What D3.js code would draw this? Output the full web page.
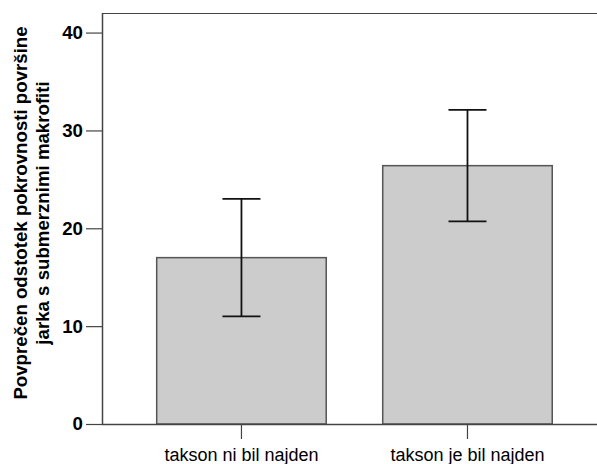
<!DOCTYPE html>
<html>
<head>
<meta charset="utf-8">
<script src="https://cdn.jsdelivr.net/npm/d3@7"></script>
<style>
  html, body { margin: 0; padding: 0; background: #fff; }
  svg { display: block; }
  text { font-family: "Liberation Sans", Arial, sans-serif; fill: #000; }
</style>
</head>
<body>
<svg id="chart" width="597" height="464"></svg>
<script>
// Categories and group means with 95% CI bounds
const categories = ["takson ni bil najden", "takson je bil najden"];
const means = [17.0, 26.4];
const ciLow = [11.0, 20.7];
const ciHigh = [23.0, 32.1];
const yTicks = [0, 10, 20, 30, 40];
const yTitleLines = ["Povprečen odstotek pokrovnosti površine", "jarka s submerznimi makrofiti"];

const svg = d3.select("#chart");
const plotLeft = 102, plotRight = 597, plotTop = 13, plotBottom = 424;
const fontFamily = "Liberation Sans, Arial, sans-serif";

const x = d3.scaleBand()
  .domain(categories)
  .range([plotLeft, plotRight])
  .paddingInner(0.25)
  .paddingOuter(0.22)
  .align(0.55);

const y = d3.scaleLinear().domain([0, 42]).range([plotBottom, plotTop]);

const axisColor = "#444";

// frame: top line
svg.append("line")
  .attr("x1", plotLeft).attr("x2", plotRight)
  .attr("y1", plotTop + 0.5).attr("y2", plotTop + 0.5)
  .attr("stroke", axisColor).attr("stroke-width", 1.2);

// bars
const data = categories.map((c, i) => ({ c, m: means[i], lo: ciLow[i], hi: ciHigh[i] }));
svg.append("g").selectAll("rect").data(data).join("rect")
  .attr("x", d => x(d.c))
  .attr("y", d => y(d.m))
  .attr("width", x.bandwidth())
  .attr("height", d => y(0) - y(d.m))
  .attr("fill", "#cccccc")
  .attr("stroke", "#555")
  .attr("stroke-width", 1.5);

// error bars
const cap = 19;
const eb = svg.append("g").attr("stroke", "#111").attr("stroke-width", 1.8).attr("fill", "none");
data.forEach(d => {
  const cx = x(d.c) + x.bandwidth() / 2;
  eb.append("line").attr("x1", cx).attr("x2", cx).attr("y1", y(d.hi)).attr("y2", y(d.lo));
  eb.append("line").attr("x1", cx - cap).attr("x2", cx + cap).attr("y1", y(d.hi)).attr("y2", y(d.hi));
  eb.append("line").attr("x1", cx - cap).attr("x2", cx + cap).attr("y1", y(d.lo)).attr("y2", y(d.lo));
});

// y axis
const yAxis = svg.append("g")
  .attr("transform", `translate(${plotLeft},0)`)
  .call(d3.axisLeft(y).tickValues(yTicks).tickSize(16).tickPadding(3).tickFormat(d3.format("d")));
yAxis.select(".domain").attr("d", `M0.5,${plotTop}V${plotBottom}`).attr("stroke", axisColor).attr("stroke-width", 1.5);
yAxis.selectAll(".tick line").attr("stroke", axisColor).attr("stroke-width", 1.2);
yAxis.selectAll(".tick text")
  .style("font-size", "18.67px").style("font-family", fontFamily).style("font-weight", "bold")
  .attr("fill", "#000");

// x axis
const xAxis = svg.append("g")
  .attr("transform", `translate(0,${plotBottom})`)
  .call(d3.axisBottom(x).tickSize(15).tickPadding(9));
xAxis.select(".domain").attr("d", `M${plotLeft},0.5H${plotRight}`).attr("stroke", axisColor).attr("stroke-width", 1.5);
xAxis.selectAll(".tick line").attr("stroke", axisColor).attr("stroke-width", 1.2);
xAxis.selectAll(".tick text")
  .style("font-size", "18px").style("font-family", fontFamily).style("font-weight", "normal")
  .attr("fill", "#000");

// y axis title (two lines, rotated)
const title = svg.append("text")
  .attr("transform", "translate(27,213) rotate(-90)")
  .attr("text-anchor", "middle")
  .style("font-size", "18.67px")
  .style("font-weight", "bold");
yTitleLines.forEach((t, i) => {
  title.append("tspan").attr("x", 0).attr("dy", i === 0 ? 0 : 21.5).text(t);
});
</script>
</body>
</html>
